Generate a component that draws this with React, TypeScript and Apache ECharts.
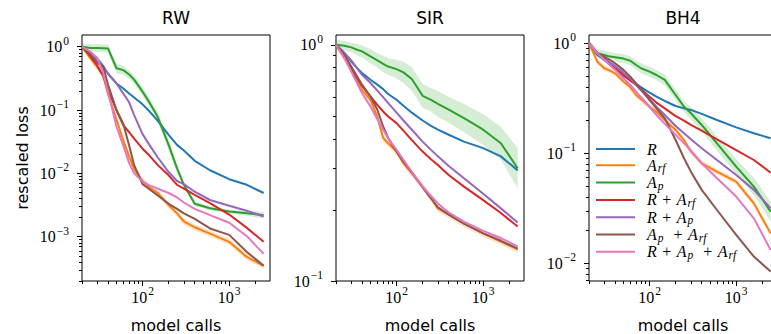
import React, { useEffect, useRef } from "react";
import * as echarts from "echarts";

// ---------- data ----------
const modelCalls = [20, 25, 30, 35, 40, 50, 60, 70, 80, 100, 120, 150, 200, 250, 300, 400, 600, 1000, 1600, 2500];

const seriesNames = ["R", "A_rf", "A_p", "R+A_rf", "R+A_p", "A_p+A_rf", "R+A_p+A_rf"];
const legendLabels = [
  "{i|R}",
  "{i|A}{u|rf}",
  "{i|A}{u|p}",
  "{i|R}{o|+}{i|A}{u|rf}",
  "{i|R}{o|+}{i|A}{u|p}",
  "{i|A}{u|p}{o|+}{i|A}{u|rf}",
  "{i|R}{o|+}{i|A}{u|p}{o|+}{i|A}{u|rf}",
];
const seriesColors = ["#1f77b4", "#ff7f0e", "#2ca02c", "#d62728", "#9467bd", "#8c564b", "#e377c2"];

// RW
const rwR = [1.0, 0.81, 0.65, 0.5, 0.37, 0.263, 0.219, 0.182, 0.158, 0.123, 0.0955, 0.0676, 0.0407, 0.0282, 0.0229, 0.0158, 0.0112, 0.0081, 0.0066, 0.0049];
const rwArf = [1.0, 0.66, 0.48, 0.355, 0.178, 0.0708, 0.0331, 0.0186, 0.0117, 0.00759, 0.00603, 0.0049, 0.00316, 0.00234, 0.00174, 0.00141, 0.00112, 0.00083, 0.00048, 0.000347];
const rwAp = [1.0, 0.955, 0.955, 0.944, 0.933, 0.457, 0.427, 0.363, 0.302, 0.195, 0.132, 0.0776, 0.0282, 0.012, 0.0066, 0.00331, 0.00282, 0.00251, 0.00234, 0.00219];
const rwRArf = [1.0, 0.708, 0.501, 0.347, 0.209, 0.1, 0.0575, 0.0447, 0.0355, 0.0245, 0.0191, 0.0135, 0.00933, 0.0066, 0.00575, 0.00457, 0.00339, 0.00224, 0.00138, 0.00083];
const rwRAp = [1.0, 0.794, 0.603, 0.468, 0.38, 0.263, 0.182, 0.132, 0.0832, 0.0417, 0.0282, 0.0178, 0.0105, 0.00759, 0.00676, 0.00513, 0.0038, 0.00309, 0.00257, 0.00209];
const rwApArf = [1.0, 0.759, 0.55, 0.49, 0.251, 0.1, 0.0603, 0.0275, 0.0135, 0.00676, 0.00562, 0.00447, 0.00331, 0.00275, 0.00234, 0.00191, 0.00135, 0.00107, 0.000575, 0.000347];
const rwRApArf = [1.0, 0.832, 0.661, 0.389, 0.195, 0.055, 0.0275, 0.0145, 0.01, 0.00741, 0.00646, 0.00575, 0.0049, 0.00417, 0.00347, 0.00275, 0.00219, 0.00166, 0.00102, 0.000537];

// SIR
const sirR = [1.0, 0.923, 0.849, 0.796, 0.759, 0.711, 0.678, 0.649, 0.619, 0.585, 0.552, 0.516, 0.478, 0.454, 0.437, 0.416, 0.389, 0.365, 0.337, 0.294];
const sirArf = [1.0, 0.879, 0.796, 0.7, 0.644, 0.585, 0.497, 0.403, 0.383, 0.353, 0.315, 0.286, 0.251, 0.224, 0.203, 0.191, 0.175, 0.159, 0.147, 0.136];
const sirAp = [1.0, 0.991, 0.975, 0.953, 0.938, 0.893, 0.859, 0.83, 0.809, 0.789, 0.764, 0.716, 0.608, 0.585, 0.562, 0.531, 0.489, 0.437, 0.383, 0.3];
const sirRArf = [1.0, 0.893, 0.796, 0.723, 0.67, 0.604, 0.557, 0.522, 0.497, 0.466, 0.433, 0.395, 0.353, 0.328, 0.31, 0.281, 0.251, 0.22, 0.194, 0.17];
const sirRAp = [1.0, 0.923, 0.859, 0.796, 0.746, 0.689, 0.64, 0.6, 0.566, 0.516, 0.478, 0.437, 0.389, 0.359, 0.337, 0.307, 0.272, 0.234, 0.203, 0.177];
const sirApArf = [1.0, 0.908, 0.809, 0.735, 0.678, 0.604, 0.531, 0.451, 0.403, 0.353, 0.321, 0.288, 0.249, 0.224, 0.205, 0.191, 0.175, 0.159, 0.148, 0.137];
const sirRApArf = [1.0, 0.879, 0.771, 0.689, 0.624, 0.548, 0.484, 0.437, 0.403, 0.359, 0.326, 0.29, 0.251, 0.229, 0.213, 0.195, 0.178, 0.163, 0.152, 0.14];

// BH4
const bh4R = [1.0, 0.783, 0.705, 0.635, 0.581, 0.505, 0.465, 0.427, 0.398, 0.356, 0.327, 0.299, 0.269, 0.256, 0.248, 0.228, 0.201, 0.172, 0.152, 0.137];
const bh4Arf = [1.0, 0.681, 0.593, 0.565, 0.533, 0.449, 0.398, 0.339, 0.31, 0.265, 0.239, 0.201, 0.163, 0.132, 0.104, 0.0811, 0.0681, 0.0552, 0.0351, 0.0187];
const bh4Ap = [1.0, 0.811, 0.783, 0.757, 0.746, 0.726, 0.695, 0.635, 0.593, 0.552, 0.515, 0.465, 0.339, 0.265, 0.231, 0.181, 0.123, 0.0757, 0.0498, 0.0295];
const bh4RArf = [1.0, 0.811, 0.716, 0.649, 0.593, 0.515, 0.458, 0.418, 0.382, 0.327, 0.289, 0.256, 0.218, 0.198, 0.181, 0.161, 0.134, 0.107, 0.0869, 0.0667];
const bh4RAp = [1.0, 0.822, 0.731, 0.667, 0.622, 0.541, 0.478, 0.418, 0.372, 0.31, 0.265, 0.223, 0.177, 0.152, 0.134, 0.111, 0.0869, 0.0635, 0.0465, 0.0316];
const bh4ApArf = [1.0, 0.811, 0.757, 0.705, 0.658, 0.573, 0.498, 0.433, 0.382, 0.305, 0.256, 0.208, 0.132, 0.0902, 0.0681, 0.0465, 0.0305, 0.0181, 0.0115, 0.0084];
const bh4RApArf = [1.0, 0.811, 0.705, 0.635, 0.573, 0.481, 0.418, 0.364, 0.323, 0.265, 0.223, 0.185, 0.147, 0.123, 0.106, 0.0811, 0.0593, 0.0404, 0.0256, 0.0132];

// spread of the shaded bands (half-width, in decades)
const rwApSpread = [0.05, 0.06, 0.06, 0.06, 0.06, 0.08, 0.07, 0.07, 0.07, 0.07, 0.07, 0.08, 0.08, 0.07, 0.05, 0.04, 0.03, 0.03, 0.04, 0.05];
const sirApSpread = [0.02, 0.02, 0.02, 0.025, 0.025, 0.03, 0.03, 0.035, 0.035, 0.04, 0.045, 0.05, 0.05, 0.05, 0.055, 0.055, 0.06, 0.065, 0.07, 0.085];
const bh4ApSpread = [0.03, 0.04, 0.04, 0.04, 0.04, 0.04, 0.04, 0.04, 0.045, 0.045, 0.045, 0.05, 0.05, 0.05, 0.055, 0.06, 0.065, 0.07, 0.08, 0.09];
const arfSpread = [0.05, 0.015, 0.025];

const panelTitles = ["RW", "SIR", "BH4"];
const panelLines = [
  [rwR, rwArf, rwAp, rwRArf, rwRAp, rwApArf, rwRApArf],
  [sirR, sirArf, sirAp, sirRArf, sirRAp, sirApArf, sirRApArf],
  [bh4R, bh4Arf, bh4Ap, bh4RArf, bh4RAp, bh4ApArf, bh4RApArf],
];
const panelApSpread = [rwApSpread, sirApSpread, bh4ApSpread];
const xRange = [20, 2958];
const panelYRange = [
  [2.0e-4, 1.53],
  [0.1, 1.1],
  [0.0069, 1.19],
];
const xTickExponents = [2, 3];
const panelYTickExponents = [
  [-3, -2, -1, 0],
  [-1, 0],
  [-2, -1, 0],
];

// ---------- layout / style ----------
const GRID_LEFT = [82, 336, 589];
const GRID_TOP = 35;
const GRID_W = 188;
const GRID_H = 246;
const SERIF = "'Liberation Serif', serif";
const SANS = "'DejaVu Sans', sans-serif";

const log10 = (v: number) => Math.log10(v);

function minorTicks(lo: number, hi: number): number[] {
  const out: number[] = [];
  for (let n = Math.floor(lo); n <= Math.ceil(hi); n++) {
    for (let k = 2; k <= 9; k++) {
      const v = n + Math.log10(k);
      if (v >= lo - 1e-9 && v <= hi + 1e-9) out.push(v);
    }
  }
  return out;
}

function expLabel(v: number): string {
  const e = Math.round(v);
  return `{b|10}{s|${e < 0 ? "\u2212" + -e : e}}`;
}

const tickRich = {
  b: { fontFamily: SERIF, fontSize: 16, lineHeight: 18, height: 18, verticalAlign: "middle", color: "#000" },
  s: { fontFamily: SERIF, fontSize: 11.5, height: 6, verticalAlign: "top", color: "#000", padding: [0, 0, 0, 1] },
};

const legendRich = {
  i: { fontFamily: SERIF, fontStyle: "italic", fontSize: 16, lineHeight: 16, height: 16, verticalAlign: "middle", color: "#000" },
  u: { fontFamily: SERIF, fontStyle: "italic", fontSize: 11.5, lineHeight: 10, height: 10, verticalAlign: "bottom", color: "#000", padding: [0, 4.5, 0, 1] },
  o: { fontFamily: SERIF, fontSize: 16, lineHeight: 16, height: 16, verticalAlign: "middle", color: "#000", padding: [0, 5.5, 0, 5.5] },
};

const tickLine = { color: "#000", width: 1 };

function buildOption() {
  const lx = [log10(xRange[0]), log10(xRange[1])];
  const xs = modelCalls.map(log10);
  const grid: any[] = [];
  const xAxis: any[] = [];
  const yAxis: any[] = [];
  const series: any[] = [];
  const title: any[] = [];

  const band = (p: number, vals: number[], spread: (i: number) => number, fill: string) => ({
    type: "custom",
    name: "band",
    xAxisIndex: 2 * p,
    yAxisIndex: 2 * p,
    silent: true,
    z: 2,
    data: [[xs[0], log10(vals[0])]],
    renderItem: (_params: any, api: any) => {
      const upper = xs.map((x, i) => api.coord([x, log10(vals[i]) + spread(i)]));
      const lower = xs.map((x, i) => api.coord([x, log10(vals[i]) - spread(i)])).reverse();
      return { type: "polygon", shape: { points: upper.concat(lower) }, style: { fill } };
    },
  });

  panelTitles.forEach((name, p) => {
    const ly = [log10(panelYRange[p][0]), log10(panelYRange[p][1])];
    grid.push({
      left: GRID_LEFT[p],
      top: GRID_TOP,
      width: GRID_W,
      height: GRID_H,
      show: true,
      borderColor: "#000",
      borderWidth: 1,
      backgroundColor: "transparent",
      containLabel: false,
      outerBoundsMode: "none",
    });
    title.push({
      text: name,
      left: GRID_LEFT[p] + GRID_W / 2,
      top: 9,
      padding: 0,
      textAlign: "center",
      textVerticalAlign: "top",
      textStyle: { fontFamily: SANS, fontSize: 17, fontWeight: "normal", color: "#000" },
    });
    xAxis.push({
      type: "value",
      gridIndex: p,
      min: lx[0],
      max: lx[1],
      position: "bottom",
      axisLine: { show: false, onZero: false },
      splitLine: { show: false },
      axisTick: { show: true, customValues: xTickExponents, length: 5, lineStyle: tickLine },
      axisLabel: { show: true, customValues: xTickExponents, formatter: expLabel, margin: 7, rich: tickRich },
      name: "model calls",
      nameLocation: "middle",
      nameGap: 36,
      nameTextStyle: { fontFamily: SANS, fontSize: 16, color: "#000" },
    });
    xAxis.push({
      type: "value",
      gridIndex: p,
      min: lx[0],
      max: lx[1],
      position: "bottom",
      axisLine: { show: false, onZero: false },
      splitLine: { show: false },
      axisTick: { show: true, customValues: minorTicks(lx[0], lx[1]), length: 3, lineStyle: tickLine },
      axisLabel: { show: false },
    });
    yAxis.push({
      type: "value",
      gridIndex: p,
      min: ly[0],
      max: ly[1],
      position: "left",
      axisLine: { show: false, onZero: false },
      splitLine: { show: false },
      axisTick: { show: true, customValues: panelYTickExponents[p], length: 5, lineStyle: tickLine },
      axisLabel: { show: true, customValues: panelYTickExponents[p], formatter: expLabel, margin: 13, rich: tickRich },
      ...(p === 0
        ? {
            name: "rescaled loss",
            nameLocation: "middle",
            nameGap: 52,
            nameTextStyle: { fontFamily: SANS, fontSize: 16, color: "#000" },
          }
        : {}),
    });
    yAxis.push({
      type: "value",
      gridIndex: p,
      min: ly[0],
      max: ly[1],
      position: "left",
      axisLine: { show: false, onZero: false },
      splitLine: { show: false },
      axisTick: { show: true, customValues: minorTicks(ly[0], ly[1]), length: 3, lineStyle: tickLine },
      axisLabel: { show: false },
    });

    const lines = panelLines[p];
    series.push(band(p, lines[1], () => arfSpread[p], "rgba(255,127,14,0.2)"));
    series.push(band(p, lines[2], (i) => panelApSpread[p][i], "rgba(44,160,44,0.2)"));

    lines.forEach((vals, k) => {
      series.push({
        type: "line",
        name: seriesNames[k],
        xAxisIndex: 2 * p,
        yAxisIndex: 2 * p,
        data: xs.map((x, i) => [x, log10(vals[i])]),
        symbol: "none",
        showSymbol: false,
        color: seriesColors[k],
        lineStyle: { color: seriesColors[k], width: 2 },
        itemStyle: { color: seriesColors[k] },
        silent: true,
        emphasis: { disabled: true },
        z: 3,
      });
    });
  });

  return {
    animation: false,
    backgroundColor: "#fff",
    textStyle: { fontFamily: SANS },
    title,
    grid,
    xAxis,
    yAxis,
    series,
    legend: {
      show: true,
      orient: "vertical",
      left: 596,
      top: 141,
      padding: 0,
      itemGap: 0.3,
      itemWidth: 39,
      itemHeight: 2,
      icon: "rect",
      selectedMode: false,
      itemStyle: { borderWidth: 0 },
      data: seriesNames,
      formatter: (name: string) => legendLabels[seriesNames.indexOf(name)],
      textStyle: { color: "#000", padding: [0, 0, 0, 7], lineHeight: 16, rich: legendRich },
    },
  };
}

export default function App() {
  const ref = useRef<HTMLDivElement>(null);
  useEffect(() => {
    if (!ref.current) return;
    const chart = echarts.init(ref.current, undefined, { renderer: "svg" });
    chart.setOption(buildOption() as any);
    return () => chart.dispose();
  }, []);
  return (
    <div
      ref={ref}
      style={{ position: "fixed", left: 0, top: 0, width: 771, height: 334, background: "#fff" }}
    />
  );
}
